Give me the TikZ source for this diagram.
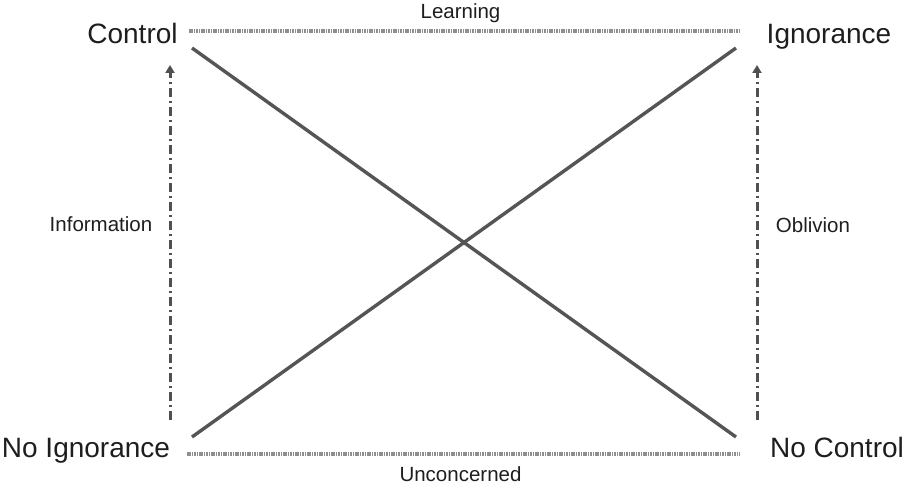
\documentclass[tikz,border=0pt]{standalone}
\usepackage{fontspec}
\setmainfont{Liberation Sans}
\usetikzlibrary{arrows.meta}
\definecolor{diag}{HTML}{555555}
\definecolor{hline}{HTML}{8E8E8E}
\definecolor{vline}{HTML}{505050}
\definecolor{txt}{HTML}{1E1E1E}
\begin{document}
\begin{tikzpicture}[x=1pt,y=-1pt,
  bigtxt/.style={font=\fontsize{28}{30}\selectfont, text=txt, inner sep=0pt, anchor=base},
  smalltxt/.style={font=\fontsize{20.5}{22}\selectfont, text=txt, inner sep=0pt, anchor=base},
  diagline/.style={draw=diag, line width=3.4pt},
  horline/.style={draw=hline, line width=3.4pt, dash pattern=on 1.6pt off 0.8pt},
  vertarrow/.style={draw=vline, line width=3pt, dash pattern=on 9pt off 4pt on 2pt off 4pt, -{Triangle[width=9pt,length=8pt]}}
]
\useasboundingbox (0,0) rectangle (907,484);
% corner labels
\node[bigtxt] (ctrl) at (132.5,44) {Control};
\node[bigtxt] (ign) at (829,44) {Ignorance};
\node[bigtxt] (noign) at (86,457) {No Ignorance};
\node[bigtxt] (noctrl) at (837,457) {No Control};
% edge labels
\node[smalltxt] (learn) at (460.5,19) {Learning};
\node[smalltxt] (uncon) at (460.5,481) {Unconcerned};
\node[smalltxt] (info) at (101,231) {Information};
\node[smalltxt] (obl) at (813,232) {Oblivion};
% endpoints
\coordinate (tl) at (189,31);
\coordinate (tr) at (740,31);
\coordinate (bl) at (187,454);
\coordinate (br) at (740,454);
\coordinate (d1s) at (192,48);
\coordinate (d1e) at (736,437);
\coordinate (d2s) at (192,437);
\coordinate (d2e) at (736,48);
\coordinate (lvb) at (170,420);
\coordinate (lvt) at (170,65);
\coordinate (rvb) at (757,420);
\coordinate (rvt) at (757,65);
% lines
\draw[horline] (tl) -- (tr);
\draw[horline] (bl) -- (br);
\draw[diagline] (d1s) -- (d1e);
\draw[diagline] (d2s) -- (d2e);
\draw[vertarrow] (lvb) -- (lvt);
\draw[vertarrow] (rvb) -- (rvt);
\end{tikzpicture}
\end{document}
